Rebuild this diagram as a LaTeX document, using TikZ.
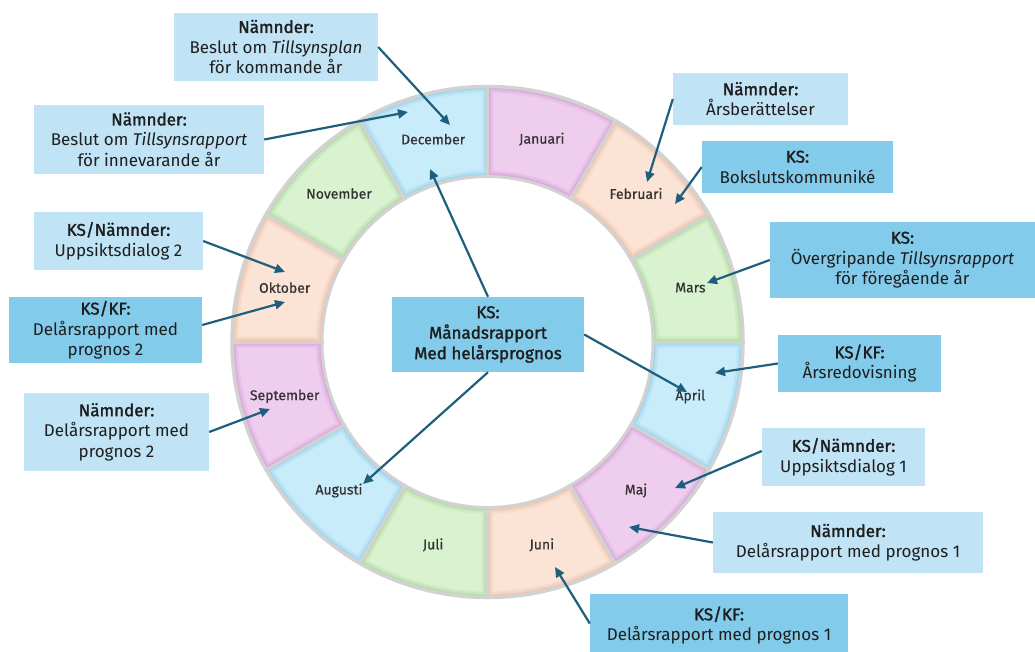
\documentclass[tikz,border=0pt]{standalone}
\usepackage{fontspec}
\setmainfont{Fira Sans}
\newfontfamily\semib{Fira Sans}[FakeBold=1.6]
\newfontfamily\monthf{Fira Sans}[FakeBold=0.6]
\usetikzlibrary{arrows.meta,calc}
\definecolor{boxlight}{HTML}{C0E4F5}
\definecolor{boxdark}{HTML}{83CBEB}
\definecolor{arrowc}{HTML}{1F5F7E}
\definecolor{txt}{HTML}{1E1E1E}
\definecolor{mtxt}{HTML}{333333}
\definecolor{ringgray}{HTML}{D2D2D2}
\definecolor{pinkf}{HTML}{EFCDEF}
\definecolor{pinke}{HTML}{D6A4D8}
\definecolor{peachf}{HTML}{FBE3D6}
\definecolor{peache}{HTML}{EDC2AB}
\definecolor{greenf}{HTML}{D9F2D0}
\definecolor{greene}{HTML}{B2D9A3}
\definecolor{bluef}{HTML}{C9ECFA}
\definecolor{bluee}{HTML}{9AD3EC}
\newcommand{\hd}[1]{{\semib #1}}
\begin{document}
\begin{tikzpicture}[x=1pt,y=-1pt,
  lbox/.style={fill=boxlight, inner sep=0pt, align=center, text=txt, font=\fontsize{17}{20.5}\selectfont},
  dbox/.style={lbox, fill=boxdark},
  arr/.style={draw=arrowc, line width=2.2pt, -{Triangle[length=10pt,width=9pt]}},
  mlab/.style={font=\monthf\fontsize{14}{16}\selectfont, text=mtxt}
]
\useasboundingbox[fill=white] (0,0) rectangle (1035,651);
\coordinate (c) at (487.5,342);

% ring segments
\foreach \m/\fc/\ec [count=\i from 0] in {Januari/pinkf/pinke, Februari/peachf/peache, Mars/greenf/greene, April/bluef/bluee, Maj/pinkf/pinke, Juni/peachf/peache, Juli/greenf/greene, Augusti/bluef/bluee, September/pinkf/pinke, Oktober/peachf/peache, November/greenf/greene, December/bluef/bluee}
{
  \pgfmathsetmacro{\sa}{30*\i-90}
  \pgfmathsetmacro{\sb}{30*\i-60}
  \pgfmathsetmacro{\sm}{30*\i-75}
  \begin{scope}
    \clip ($(c)+(\sa:255)$) arc[start angle=\sa,end angle=\sb,radius=255] -- ($(c)+(\sb:166)$) arc[start angle=\sb,end angle=\sa,radius=166] -- cycle;
    \fill[\fc] (c) circle[radius=260];
    \foreach \w/\o in {12/0.18, 9/0.25, 6/0.4, 4/0.6}{
      \draw[\ec, line width=\w pt, opacity=\o] ($(c)+(\sa:255)$) arc[start angle=\sa,end angle=\sb,radius=255] -- ($(c)+(\sb:166)$) arc[start angle=\sb,end angle=\sa,radius=166] -- cycle;
    }
  \end{scope}
  \node[mlab] (m\i) at ($(c)+(\sm:210)$) {\m};
}
\foreach \i in {0,...,11}{
  \draw[ringgray, line width=3pt] ($(c)+(30*\i:164)$) -- ($(c)+(30*\i:257)$);
}
\draw[ringgray, line width=3.5pt] (c) circle[radius=255.5];
\draw[ringgray, line width=3pt] (c) circle[radius=165.5];

% boxes
\node[lbox, minimum width=204pt, minimum height=68pt] (b1) at (276,47) {\hd{Nämnder:}\\Beslut om \textit{Tillsynsplan}\\för kommande år};
\node[lbox, minimum width=230pt, minimum height=69pt] (b2) at (149,139.5) {\hd{Nämnder:}\\Beslut om \textit{Tillsynsrapport}\\för innevarande år};
\node[lbox, minimum width=169pt, minimum height=58pt] (b3) at (118.5,241) {\hd{KS/Nämnder:}\\Uppsiktsdialog 2};
\node[dbox, minimum width=193pt, minimum height=66pt] (b4) at (105.5,330) {\hd{KS/KF:}\\Delårsrapport med\\prognos 2};
\node[lbox, minimum width=185pt, minimum height=78pt] (b5) at (116.5,432) {\hd{Nämnder:}\\Delårsrapport med\\prognos 2};
\node[lbox, minimum width=175pt, minimum height=52pt] (b6) at (760.5,99) {\hd{Nämnder:}\\Årsberättelser};
\node[dbox, minimum width=191pt, minimum height=52pt] (b7) at (797.5,167) {\hd{KS:}\\Bokslutskommuniké};
\node[dbox, minimum width=265pt, minimum height=76pt] (b8) at (902.5,260) {\hd{KS:}\\Övergripande \textit{Tillsynsrapport}\\för föregående år};
\node[dbox, minimum width=163pt, minimum height=57pt] (b9) at (859.5,363.5) {\hd{KS/KF:}\\Årsredovisning};
\node[lbox, minimum width=163pt, minimum height=58pt] (b10) at (843.5,457) {\hd{KS/Nämnder:}\\Uppsiktsdialog 1};
\node[lbox, minimum width=270pt, minimum height=61pt] (b11) at (848,542.5) {\hd{Nämnder:}\\Delårsrapport med prognos 1};
\node[dbox, minimum width=258pt, minimum height=63pt] (b12) at (719,625.5) {\hd{KS/KF:}\\Delårsrapport med prognos 1};
\node[dbox, minimum width=192pt, minimum height=75pt, font=\semib\fontsize{17}{20.5}\selectfont] (b13) at (488,334.5) {KS:\\Månadsrapport\\Med helårsprognos};

% arrow targets
\coordinate (t1) at (450,125);
\coordinate (t2) at (408,112);
\coordinate (t3) at (430,169);
\coordinate (t4) at (687,392);
\coordinate (t5) at (363,484);
\coordinate (t6) at (647,182);
\coordinate (t7) at (675,204);
\coordinate (t8) at (707,283);
\coordinate (t9) at (715,373);
\coordinate (t10) at (675,488);
\coordinate (t11) at (629,527);
\coordinate (t12) at (555,567);
\coordinate (t13) at (285,272);
\coordinate (t14) at (285,302);
\coordinate (t15) at (270,409);

% arrows
\draw[arr] (b1.east) -- (t1);
\draw[arr] (b2.east) -- (t2);
\draw[arr] (b13.north) -- (t3);
\draw[arr] (b13.east) -- (t4);
\draw[arr] (b13.south) -- (t5);
\draw[arr] (b6.west) -- (t6);
\draw[arr] (b7.west) -- (t7);
\draw[arr] (b8.west) -- (t8);
\draw[arr] (b9.west) -- (t9);
\draw[arr] ($(b10.west)+(0,-6)$) -- (t10);
\draw[arr] (b11.west) -- (t11);
\draw[arr] ($(b12.west)+(0,-2)$) -- (t12);
\draw[arr] (b3.east) -- (t13);
\draw[arr] ($(b4.east)+(0,-5)$) -- (t14);
\draw[arr] (b5.east) -- (t15);
\end{tikzpicture}
\end{document}
